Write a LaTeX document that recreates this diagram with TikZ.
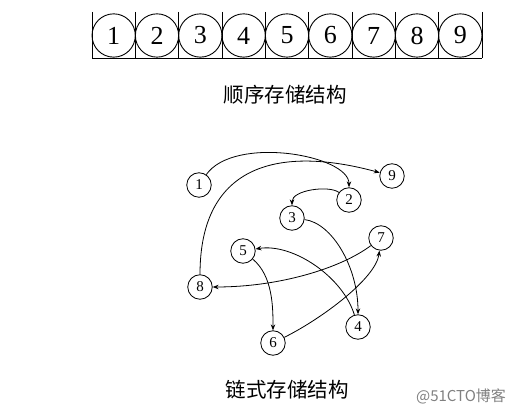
\documentclass[tikz,border=0pt]{standalone}
\usepackage{fontspec}
\setmainfont{Liberation Serif}
\newfontfamily\cjk{Noto Sans CJK SC}
\usetikzlibrary{arrows.meta}
\begin{document}
\begin{tikzpicture}[x=1pt,y=1pt,
  cell/.style={circle,draw,line width=0.9pt,minimum size=43.3pt,inner sep=0pt,font=\fontsize{26}{26}\selectfont},
  wall/.style={line width=0.9pt},
  lnode/.style={circle,draw,line width=0.8pt,minimum size=24.5pt,inner sep=0pt,font=\fontsize{15}{15}\selectfont},
  link/.style={line width=0.8pt,-{Stealth[length=6pt,width=4.5pt]}},
  title/.style={font=\cjk\fontsize{20.5}{20.5}\selectfont},
  mark51/.style={font=\cjk\fontsize{15}{15}\selectfont,text=black!50}
  ]
\useasboundingbox (0,0) rectangle (521,417);
% sequential storage
\foreach \i in {1,...,9} { \node[cell] (c\i) at ({92+43.333*(\i-0.5)},381.5) {\i}; }
\foreach \k in {0,...,9} {
  \coordinate (wt\k) at ({92+43.333*\k},405);
  \coordinate (wb\k) at ({92+43.333*\k},359);
  \draw[wall] (wt\k) -- (wb\k);
}
\draw[wall] (wb0) -- (wb9);
\node[title] (t1) at (285,322) {顺序存储结构};
% linked storage
\node[lnode] (n1) at (199,232) {1};
\node[lnode] (n9) at (392,241) {9};
\node[lnode] (n2) at (349,217) {2};
\node[lnode] (n3) at (292,199) {3};
\node[lnode] (n7) at (381,179) {7};
\node[lnode] (n5) at (243,166) {5};
\node[lnode] (n8) at (200,130) {8};
\node[lnode] (n4) at (358,90) {4};
\node[lnode] (n6) at (273,74) {6};
\draw[link] (n1) .. controls +(35,50) and +(0,45) .. (n2);
\draw[link] (n2) .. controls +(-20,15) and +(0,28) .. (n3);
\draw[link] (n3) .. controls +(40,-5) and +(0,60) .. (n4);
\draw[link] (n4) .. controls +(-15,50) and +(50,8) .. (n5);
\draw[link] (n5) .. controls +(30,-25) and +(0,35) .. (n6);
\draw[link] (n6) .. controls +(50,25) and +(-5,-40) .. (n7);
\draw[link] (n7) .. controls +(-40,-30) and +(80,0) .. (n8);
\draw[link] (n8) .. controls +(0,125) and +(-110,30) .. (n9);
\node[title] (t2) at (287,27) {链式存储结构};
\node[mark51] (wm) at (461,21) {@51CTO博客};
\end{tikzpicture}
\end{document}
